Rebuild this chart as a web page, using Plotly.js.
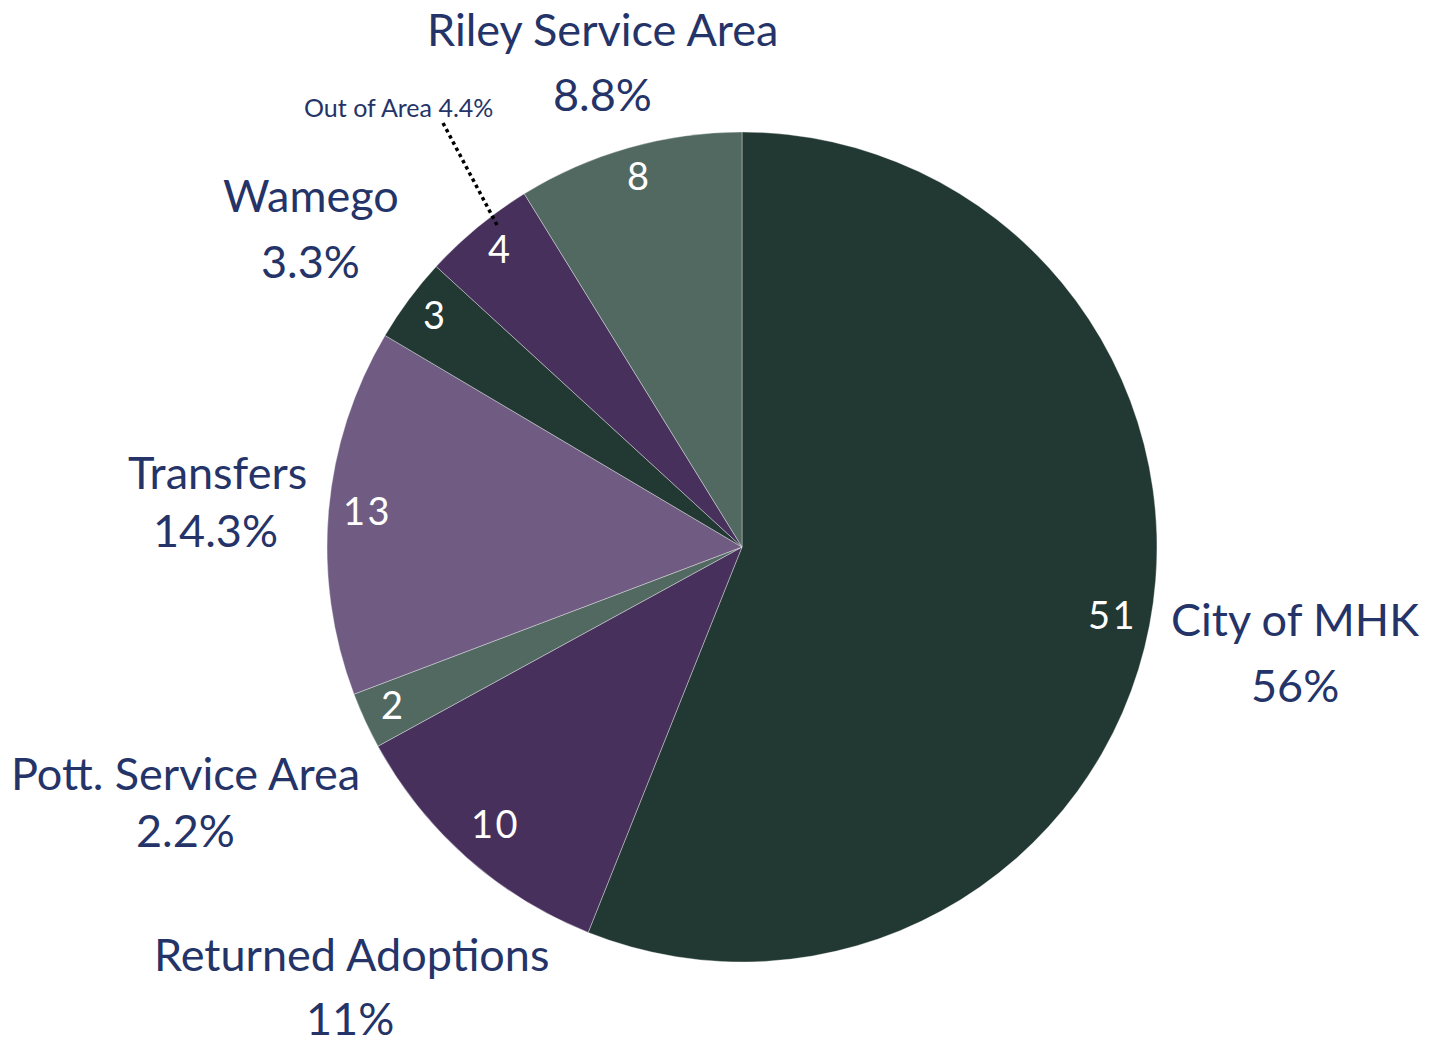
<!DOCTYPE html>
<html>
<head>
<meta charset="utf-8">
<script src="https://cdn.plot.ly/plotly-3.0.1.min.js"></script>
<style>
  html, body { margin: 0; padding: 0; background: #ffffff; }
  #chart { width: 1437px; height: 1040px; }
</style>
</head>
<body>
<div id="chart"></div>
<script>
// ---- data ----
const categories = ["City of MHK", "Returned Adoptions", "Pott. Service Area", "Transfers", "Wamego", "Out of Area", "Riley Service Area"];
const counts = [51, 10, 2, 13, 3, 4, 8];
const percentLabels = ["56%", "11%", "2.2%", "14.3%", "3.3%", "4.4%", "8.8%"];

// ---- styles / layout ----
const sliceColors = ["#223832", "#47305C", "#526962", "#705C82", "#223832", "#47305C", "#526962"];
const labelColor = "#253468";
const W = 1437, H = 1040;
const plotL = 327, plotT = 132, plotSize = 830;
const R = plotSize / 2;
const cx = plotL + R, cy = plotT + R;

// outside label anchors (pixel centres): [nameX, nameY, pctX, pctY]
const outsideLabelPos = [
  [1295, 619, 1295, 685],
  [351, 954, 350, 1018],
  [185, 773, 185, 830],
  [217, 472, 215, 530],
  [311, 195, 310, 261],
  [398, 107, null, null],
  [602, 29, 602, 94]
];

function px2x(px) { return (px - plotL) / plotSize; }
function py2y(py) { return 1 - (py - plotT) / plotSize; }

const total = counts.reduce((a, b) => a + b, 0);
const annotations = [];
let cum = 0;
counts.forEach((v, i) => {
  const mid = (cum + v / 2) / total * 2 * Math.PI;
  cum += v;
  const s = Math.sin(mid), c = Math.cos(mid);
  const txt = String(v).split("").join("\u200A");
  const hw = String(v).length > 1 ? 24 : 11, hh = 18;
  const r = R - 12 - (hw * Math.abs(s) + hh * Math.abs(c));
  const lx = cx + r * s, ly = cy - r * c - 4;
  annotations.push({
    x: px2x(lx), y: py2y(ly), xref: "paper", yref: "paper",
    text: txt, showarrow: false, xanchor: "center", yanchor: "middle",
    font: { family: "Lato", size: 38, color: "#ffffff" }
  });
  const p = outsideLabelPos[i];
  if (p[2] === null) {
    annotations.push({
      x: px2x(p[0]), y: py2y(p[1]), xref: "paper", yref: "paper",
      text: categories[i] + " " + percentLabels[i], showarrow: false,
      xanchor: "center", yanchor: "middle",
      font: { family: "Lato", size: 25, color: labelColor }
    });
  } else {
    annotations.push({
      x: px2x(p[0]), y: py2y(p[1]), xref: "paper", yref: "paper",
      text: categories[i], showarrow: false, xanchor: "center", yanchor: "middle",
      font: { family: "Lato", size: 45, color: labelColor }
    });
    annotations.push({
      x: px2x(p[2]), y: py2y(p[3]), xref: "paper", yref: "paper",
      text: percentLabels[i], showarrow: false, xanchor: "center", yanchor: "middle",
      font: { family: "Lato", size: 45, color: labelColor }
    });
  }
});

const trace = {
  type: "pie",
  labels: categories,
  values: counts,
  sort: false,
  direction: "clockwise",
  rotation: 0,
  textinfo: "none",
  hoverinfo: "label+value+percent",
  marker: { colors: sliceColors, line: { color: "rgba(255,255,255,0.45)", width: 0.8 } },
  domain: { x: [0, 1], y: [0, 1] }
};

const layout = {
  width: W, height: H,
  margin: { l: plotL, r: W - plotL - plotSize, t: plotT, b: H - plotT - plotSize, pad: 0 },
  paper_bgcolor: "#ffffff",
  plot_bgcolor: "#ffffff",
  showlegend: false,
  font: { family: "Lato" },
  annotations: annotations,
  shapes: [{
    type: "line", xref: "paper", yref: "paper",
    x0: px2x(443), y0: py2y(123), x1: px2x(497), y1: py2y(225),
    line: { color: "#000000", width: 3.5, dash: "dot" }
  }]
};

Plotly.newPlot("chart", [trace], layout, { displayModeBar: false, staticPlot: true });
</script>
</body>
</html>
